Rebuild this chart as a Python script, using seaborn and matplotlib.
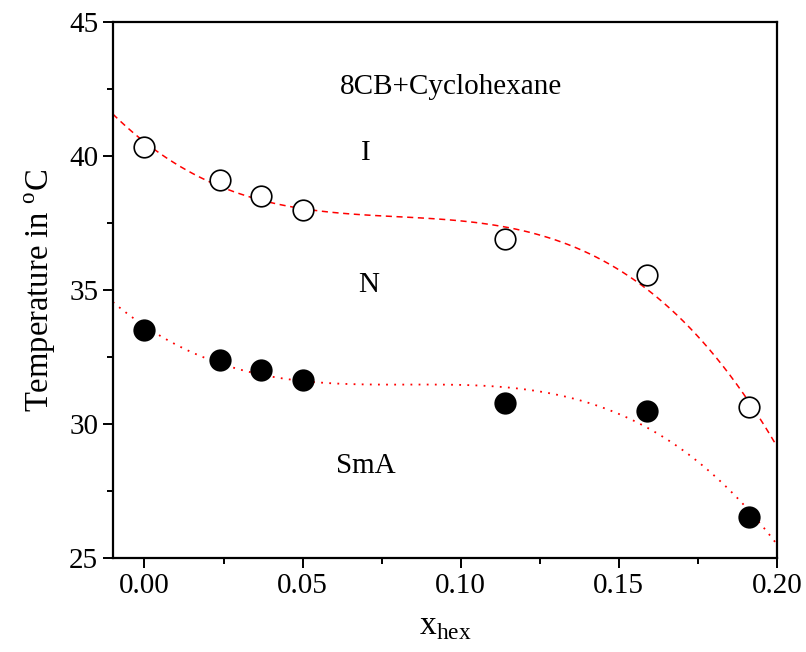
import matplotlib
matplotlib.use('Agg')
import matplotlib.pyplot as plt
import seaborn as sns
import pandas as pd
from matplotlib.ticker import MultipleLocator

# composition (mole fraction of hexane) and transition temperatures
x_hex = [0.000, 0.024, 0.037, 0.050, 0.114, 0.159, 0.191]
t_ni = [40.35, 39.10, 38.50, 37.98, 36.90, 35.55, 30.65]
t_nsma = [33.50, 32.40, 32.02, 31.65, 30.80, 30.50, 26.55]

df = pd.DataFrame({'x': x_hex, 'T_NI': t_ni, 'T_NSmA': t_nsma})

sns.set_style('ticks')
plt.rcParams['font.family'] = ['Liberation Serif', 'DejaVu Serif']
plt.rcParams['mathtext.fontset'] = 'custom'
plt.rcParams['mathtext.rm'] = 'Liberation Serif'
plt.rcParams['text.color'] = 'black'
plt.rcParams['axes.labelcolor'] = 'black'
plt.rcParams['xtick.color'] = 'black'
plt.rcParams['ytick.color'] = 'black'
plt.rcParams['axes.edgecolor'] = 'black'

fig = plt.figure(figsize=(8.06, 6.52), dpi=100)
ax = fig.add_axes([0.140, 0.144, 0.824, 0.822])
ax.set_xlim(-0.01, 0.20)
ax.set_ylim(25, 45)

# cubic fits through the data
sns.regplot(data=df, x='x', y='T_NI', order=3, ci=None, scatter=False, truncate=False,
            ax=ax, line_kws=dict(color='red', lw=1.1, ls=(0, (4, 3))))
sns.regplot(data=df, x='x', y='T_NSmA', order=3, ci=None, scatter=False, truncate=False,
            ax=ax, line_kws=dict(color='red', lw=1.3, ls=(0, (1, 3.5))))

sns.scatterplot(data=df, x='x', y='T_NI', ax=ax, s=220, facecolor='white',
                edgecolor='black', linewidth=1.2, zorder=3)
sns.scatterplot(data=df, x='x', y='T_NSmA', ax=ax, s=220, color='black',
                edgecolor='black', linewidth=1.2, zorder=3)

ax.text(0.0968, 42.57, '8CB+Cyclohexane', ha='center', va='center', fontsize=21)
ax.text(0.070, 40.1, 'I', ha='center', va='center', fontsize=21)
ax.text(0.071, 35.2, 'N', ha='center', va='center', fontsize=21)
ax.text(0.070, 28.45, 'SmA', ha='center', va='center', fontsize=21)

ax.set_xlabel(r'x$_{\mathregular{hex}}$', fontsize=24, labelpad=9)
ax.set_ylabel(r'Temperature in $^{\mathregular{o}}$C', fontsize=23.5, labelpad=8)

ax.xaxis.set_major_locator(MultipleLocator(0.05))
ax.xaxis.set_minor_locator(MultipleLocator(0.025))
ax.yaxis.set_major_locator(MultipleLocator(5))
ax.yaxis.set_minor_locator(MultipleLocator(2.5))
ax.xaxis.set_major_formatter(plt.FuncFormatter(lambda v, p: f'{v:.2f}'))
ax.tick_params(which='major', direction='out', length=7, width=1.4, labelsize=21,
               top=False, right=False)
ax.tick_params(which='minor', direction='out', length=4, width=1.4, top=False, right=False)
for sp in ax.spines.values():
    sp.set_visible(True)
    sp.set_linewidth(1.6)

fig.savefig('out.png', dpi=100)
